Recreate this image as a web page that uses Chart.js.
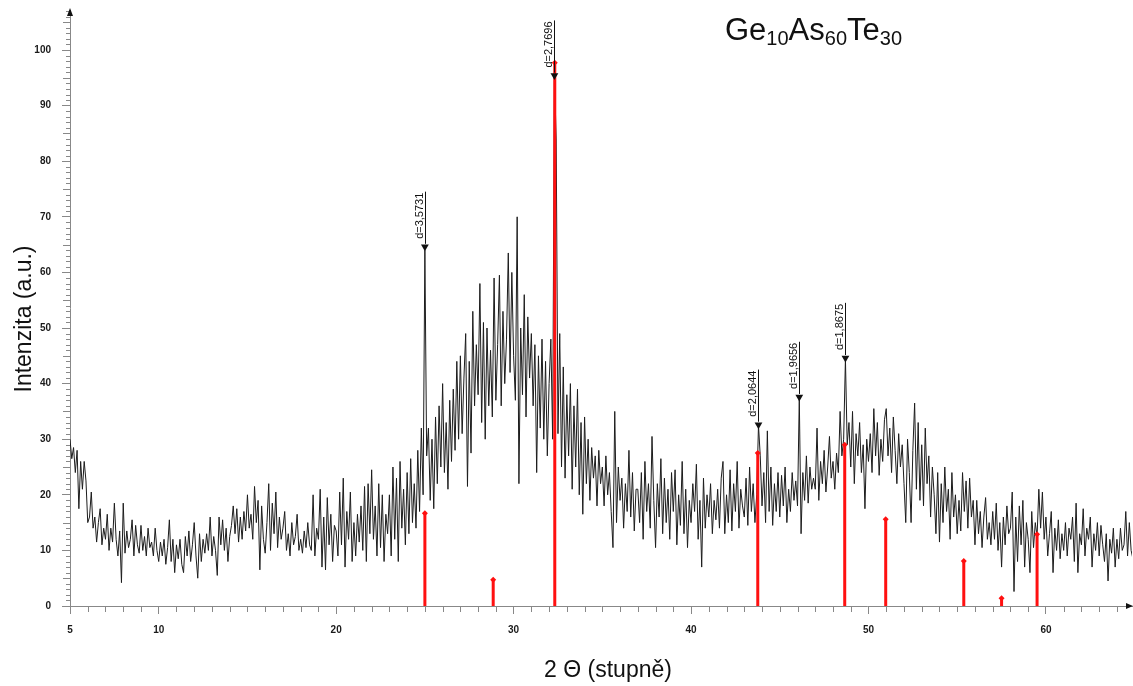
<!DOCTYPE html>
<html>
<head>
<meta charset="utf-8">
<title>Ge10As60Te30 XRD</title>
<script src="https://cdn.jsdelivr.net/npm/chart.js@4.4.1/dist/chart.umd.min.js"></script>
<style>
  html, body { margin: 0; padding: 0; background: #fff; }
  #wrap { position: relative; width: 1133px; height: 686px; }
  #title {
    position: absolute; left: 725px; top: 15px;
    font-family: "Liberation Sans", Arial, sans-serif;
    font-size: 31px; line-height: 30px; color: #111; white-space: nowrap;
  }
  #title sub { font-size: 20px; vertical-align: -5px; line-height: 0; }
</style>
</head>
<body>
<div id="wrap">
  <canvas id="myChart" width="1133" height="686" style="width:1133px;height:686px"></canvas>
  <div id="title">Ge<sub>10</sub>As<sub>60</sub>Te<sub>30</sub></div>
</div>
<script>
// scan: 2theta from 5 deg, one value every 0.1 deg
var startAngle = 5.0;
var angleStep = 0.1;
var intensity = [
  30, 26.5, 28.5, 24, 28, 17.5, 26, 21, 26, 22.5, // 5
  15, 16, 20.5, 14, 16, 11.5, 15, 17.5, 11, 14, // 6
  12, 16.5, 10, 14, 11.5, 18.5, 12, 9, 13.5, 4.2, // 7
  18.5, 9.5, 13.5, 10.5, 12, 15.5, 9, 14.5, 11, 9.5, // 8
  14.5, 10, 12.5, 9, 14, 10.5, 11.5, 9, 14, 10, // 9
  8, 11.5, 9, 12, 7.5, 10.5, 15.5, 8, 12, 6, // 10
  11, 8.5, 12, 7.5, 6, 12.5, 9, 13.5, 8, 11, // 11
  15, 9, 5, 13, 8, 12, 9.5, 13, 10, 16, // 12
  9, 12.5, 10, 5.5, 16, 11, 15.5, 10, 14, 8, // 13
  12.5, 14.5, 18, 13, 17.5, 11.5, 16, 12, 17, 13.5, // 14
  20, 14, 16.5, 12, 21.5, 15, 19, 6.5, 18, 12, // 15
  9.5, 15, 22, 10, 18.5, 13, 20.5, 10.5, 16, 12, // 16
  14, 17, 10, 13, 9, 15, 11, 12.5, 16.5, 10, // 17
  12, 9.5, 13.5, 10.5, 15, 11, 10, 20, 9, 14, // 18
  12, 21, 7, 16, 6.5, 19.5, 11, 16.5, 8, 14.5, // 19
  13.5, 9, 20.5, 11, 23, 7, 17, 12, 20.5, 8, // 20
  15, 9, 16.5, 11.5, 18, 10, 21.5, 8, 22, 13, // 21
  24.5, 12, 18, 9, 22, 10.5, 20, 8, 16.5, 13, // 22
  20, 9, 25, 12, 23, 8, 26, 14, 21, 11, // 23
  24, 13, 26.5, 15, 22, 14, 28, 17, 32, 20, // 24
  64, 27, 32, 19, 30, 17.5, 34, 22, 36, 25, // 25
  40, 24, 33, 21, 37, 26, 39, 28, 44, 30, // 26
  45, 31, 41, 49, 21.5, 44, 27.5, 53, 36, 47, // 27
  38, 58, 33, 51, 30, 50, 36, 46, 34, 59, // 28
  37, 47, 59.5, 36, 53, 40, 48, 63.5, 42, 60, // 29
  45, 37, 70, 22, 50, 38, 56, 34, 52, 41, // 30
  49, 36, 47, 24, 45, 32, 48, 30, 44, 27, // 31
  40, 48, 30, 95.5, 84, 31, 49, 25, 43, 23, // 32
  38, 27, 40, 21, 36, 25, 39, 20, 33, 16.5, // 33
  34, 22, 30, 19, 28.5, 23, 27, 18, 28, 22, // 34
  25, 18, 27, 20, 24, 17, 10.5, 35, 15, 25, // 35
  19, 23, 14, 22, 17, 28, 16, 24, 13.5, 21, // 36
  21, 15, 24, 12, 26, 17, 22, 14, 30.5, 19, // 37
  10.5, 22, 16, 26.5, 13, 23, 15, 21, 12, 24, // 38
  17, 24.5, 11, 20, 14.5, 26, 13, 21, 10.5, 19, // 39
  15, 22, 17, 25.5, 12, 19, 7, 23, 14, 20, // 40
  16, 22, 13, 19, 15.5, 21, 14, 23, 26, 13, // 41
  20, 15, 24.5, 13.5, 22, 17, 26, 14, 21, 18, // 42
  16, 23, 14.5, 25, 17, 22, 15, 20, 32.5, 27, // 43
  18, 24, 15, 31.5, 17, 25, 14.5, 22, 17, 24, // 44
  16, 23.5, 18, 25, 15, 21, 17, 24, 19, 22.5, // 45
  18, 37.5, 13, 24, 19, 27, 18.5, 25, 21, 23, // 46
  21, 32, 19, 26, 22, 28, 20.5, 25, 30.5, 23, // 47
  26, 21, 27.5, 24, 35, 27, 30, 44.5, 29, 33, // 48
  25, 35, 22, 31, 27, 33, 24, 29, 17.5, 30, // 49
  26, 31, 24, 35.5, 27, 33, 23.5, 30, 26, 33.5, // 50
  35.5, 27, 32, 24, 34, 28, 22, 31, 25, 29, // 51
  22, 15, 30, 24, 15, 28, 36.5, 21, 33, 19, // 52
  29, 18, 32, 22, 27, 16, 25, 20, 13, 24, // 53
  11.5, 22, 15, 25, 17, 21, 12, 24, 16, 20, // 54
  13, 19, 13.5, 24, 17, 22.5, 14, 23, 16, 19, // 55
  11, 19, 13, 17, 10.5, 16, 19.5, 12, 15, 11, // 56
  17, 12, 18.5, 10, 15, 7, 16, 11, 18, 13, // 57
  14, 20.5, 2.6, 16, 8, 18, 11, 19, 7, 15, // 58
  12, 6, 17, 10.5, 15, 12.5, 21, 14, 20.5, 12, // 59
  16, 9, 13, 17, 6, 14, 10, 15.5, 8.5, 13, // 60
  10, 15, 9, 14, 12, 16, 8, 18.5, 6, 13, // 61
  11, 17.5, 9, 14, 12, 16, 7, 13, 10, 15, // 62
  9, 14.5, 11, 8, 13, 4.5, 12, 9.5, 14, 7, // 63
  12, 8.5, 14, 10, 11, 17, 9, 15, 10, 8.5 // 64
];

// reference pattern (red sticks)
var refAngle = [25.0, 28.85, 32.32, 43.76, 48.66, 50.97, 55.37, 57.5, 59.5];
var refHeight = [16.7, 4.7, 97.7, 27.5, 29.0, 15.6, 8.1, 1.4, 12.9];

// marked peaks with d-spacings
var peakAngle = [25.0, 32.3, 43.8, 46.1, 48.7];
var peakHeight = [64.6, 95.4, 32.6, 37.6, 44.6];
var peakLabels = ["d=3,5731", "d=2,7696", "d=2,0644", "d=1,9656", "d=1,8675"];

// axis ticks
var xTickValues = [5, 10, 20, 30, 40, 50, 60];
var yTickValues = [0, 10, 20, 30, 40, 50, 60, 70, 80, 90, 100];

var fontFamily = "'Liberation Sans', Arial, sans-serif";

// build the datasets from the arrays above
var scanPoints = intensity.map(function (v, i) {
  return { x: +(startAngle + i * angleStep).toFixed(2), y: v };
});

var stickPoints = [];
var stickTops = [];
for (var i = 0; i < refAngle.length; i++) {
  stickPoints.push({ x: refAngle[i], y: 0 });
  stickPoints.push({ x: refAngle[i], y: refHeight[i] });
  stickPoints.push({ x: refAngle[i], y: null });
  stickTops.push({ x: refAngle[i], y: refHeight[i] });
}

var peakPoints = peakAngle.map(function (a, i) {
  return { x: a, y: peakHeight[i] };
});

// minor ticks, arrows and axis titles
var axisExtras = {
  id: "axisExtras",
  afterDraw: function (chart) {
    var ctx = chart.ctx;
    var xs = chart.scales.x;
    var ys = chart.scales.y;
    var area = chart.chartArea;
    ctx.save();
    ctx.strokeStyle = "#888";
    ctx.lineWidth = 1;
    ctx.beginPath();
    for (var v = 1; v <= 107; v++) {
      if (v % 10 === 0) continue;
      var py = Math.round(ys.getPixelForValue(v)) + 0.5;
      var len = v % 5 === 0 ? 7 : 4;
      ctx.moveTo(area.left - len, py);
      ctx.lineTo(area.left, py);
    }
    for (var d = 6; d <= 64; d++) {
      if (xTickValues.indexOf(d) > -1) continue;
      var px = Math.round(xs.getPixelForValue(d)) + 0.5;
      ctx.moveTo(px, area.bottom);
      ctx.lineTo(px, area.bottom + 6);
    }
    ctx.stroke();

    // arrow heads
    ctx.fillStyle = "#111";
    ctx.beginPath();
    ctx.moveTo(area.left, area.top - 2);
    ctx.lineTo(area.left - 3, area.top + 6);
    ctx.lineTo(area.left + 3, area.top + 6);
    ctx.fill();
    ctx.beginPath();
    ctx.moveTo(area.right + 1, area.bottom);
    ctx.lineTo(area.right - 6, area.bottom - 3);
    ctx.lineTo(area.right - 6, area.bottom + 3);
    ctx.fill();

    // axis titles
    ctx.fillStyle = "#111";
    ctx.font = "23px " + fontFamily;
    ctx.textAlign = "center";
    ctx.textBaseline = "alphabetic";
    ctx.fillText("2 \u0398 (stupn\u011b)", 608, 677);
    ctx.translate(31, 319);
    ctx.rotate(-Math.PI / 2);
    ctx.fillText("Intenzita (a.u.)", 0, 0);
    ctx.restore();
  },
};

// vertical d= labels above the marked peaks
var peakLabelPlugin = {
  id: "peakLabelPlugin",
  afterDatasetsDraw: function (chart) {
    var ctx = chart.ctx;
    ctx.save();
    ctx.font = "11px " + fontFamily;
    ctx.fillStyle = "#111";
    ctx.strokeStyle = "#111";
    ctx.lineWidth = 1;
    for (var i = 0; i < peakAngle.length; i++) {
      var px = Math.round(chart.scales.x.getPixelForValue(peakAngle[i])) + 0.5;
      var py = chart.scales.y.getPixelForValue(peakHeight[i]);
      var w = ctx.measureText(peakLabels[i]).width;
      var y0 = py - 8;
      ctx.beginPath();
      ctx.moveTo(px, py - 3);
      ctx.lineTo(px, y0 - w - 1);
      ctx.stroke();
      ctx.save();
      ctx.translate(px - 3, y0);
      ctx.rotate(-Math.PI / 2);
      ctx.textAlign = "left";
      ctx.textBaseline = "alphabetic";
      ctx.fillText(peakLabels[i], 0, 0);
      ctx.restore();
    }
    ctx.restore();
  },
};

var tickFont = { family: fontFamily, size: 10, weight: "bold" };

var chart = new Chart("myChart", {
  type: "line",
  data: {
    datasets: [
      {
        label: "scan",
        data: scanPoints,
        borderColor: "#1c1c1c",
        borderWidth: 1,
        pointRadius: 0,
        tension: 0,
        order: 4,
      },
      {
        label: "reference",
        data: stickPoints,
        borderColor: "#ff1010",
        borderWidth: 3,
        pointRadius: 0,
        spanGaps: false,
        order: 3,
      },
      {
        label: "reference tops",
        data: stickTops,
        showLine: false,
        pointStyle: "rectRot",
        pointRadius: 3,
        backgroundColor: "#ff1010",
        borderColor: "#ff1010",
        borderWidth: 0,
        order: 2,
      },
      {
        label: "peaks",
        data: peakPoints,
        showLine: false,
        pointStyle: "triangle",
        rotation: 180,
        pointRadius: 4.5,
        backgroundColor: "#111",
        borderColor: "#111",
        borderWidth: 0,
        order: 1,
      },
    ],
  },
  options: {
    responsive: false,
    animation: false,
    events: [],
    layout: { autoPadding: false, padding: { top: 10, right: 1, left: 0, bottom: 0 } },
    plugins: { legend: { display: false }, tooltip: { enabled: false } },
    scales: {
      x: {
        type: "linear",
        min: 5,
        max: 64.85,
        afterBuildTicks: function (scale) {
          scale.ticks = xTickValues.map(function (v) { return { value: v }; });
        },
        afterFit: function (scale) {
          scale.height = 80;
          scale.paddingLeft = 0;
          scale.paddingRight = 0;
        },
        ticks: { font: tickFont, color: "#1a1a1a", padding: 10, maxRotation: 0 },
        grid: { drawOnChartArea: false, drawTicks: true, tickLength: 8, color: "#888" },
        border: { display: true, color: "#888", width: 1 },
      },
      y: {
        type: "linear",
        min: 0,
        max: 107.2,
        afterBuildTicks: function (scale) {
          scale.ticks = yTickValues.map(function (v) { return { value: v }; });
        },
        afterFit: function (scale) {
          scale.width = 70;
          scale.paddingTop = 0;
          scale.paddingBottom = 0;
        },
        ticks: { font: tickFont, color: "#1a1a1a", padding: 11 },
        grid: { drawOnChartArea: false, drawTicks: true, tickLength: 8, color: "#888" },
        border: { display: true, color: "#888", width: 1 },
      },
    },
  },
  plugins: [axisExtras, peakLabelPlugin],
});
</script>
</body>
</html>
